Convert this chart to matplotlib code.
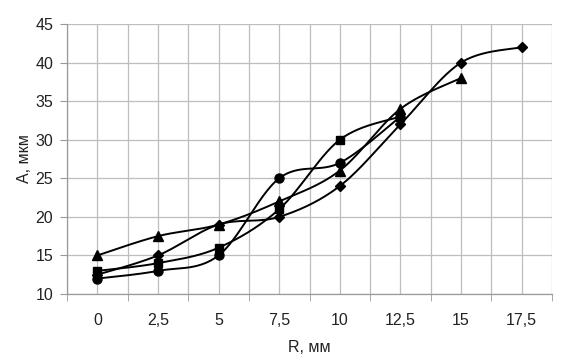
import numpy as np
import matplotlib
matplotlib.use("Agg")
import matplotlib.pyplot as plt

plt.rcParams['font.family'] = ['Liberation Sans', 'DejaVu Sans']

categories = ["0", "2,5", "5", "7,5", "10", "12,5", "15", "17,5"]
diamond = [12.5, 15, 19, 20, 24, 32, 40, 42]
square = [13, 14, 16, 21, 30, 33]
triangle = [15, 17.5, 19, 22, 26, 34, 38]
circle = [12, 13, 15, 25, 27, 33]
y_ticks = [10, 15, 20, 25, 30, 35, 40, 45]


def smooth(ys, n=30):
    """Excel-like smoothed line (Catmull-Rom Bezier) through the points."""
    x = np.arange(len(ys), dtype=float)
    y = np.asarray(ys, dtype=float)
    px, py = [x[0]], [y[0]]
    for i in range(len(x) - 1):
        x0, y0 = (x[i - 1], y[i - 1]) if i > 0 else (x[i], y[i])
        x3, y3 = (x[i + 2], y[i + 2]) if i + 2 < len(x) else (x[i + 1], y[i + 1])
        x1, y1 = x[i], y[i]
        x2, y2 = x[i + 1], y[i + 1]
        c1x, c1y = x1 + (x2 - x0) / 6, y1 + (y2 - y0) / 6
        c2x, c2y = x2 - (x3 - x1) / 6, y2 - (y3 - y1) / 6
        t = np.linspace(0, 1, n)[1:]
        bx = (1 - t) ** 3 * x1 + 3 * (1 - t) ** 2 * t * c1x + 3 * (1 - t) * t ** 2 * c2x + t ** 3 * x2
        by = (1 - t) ** 3 * y1 + 3 * (1 - t) ** 2 * t * c1y + 3 * (1 - t) * t ** 2 * c2y + t ** 3 * y2
        px.extend(bx)
        py.extend(by)
    return np.array(px), np.array(py)


fig = plt.figure(figsize=(5.65, 3.62), dpi=100)
ax = fig.add_axes([0.1186, 0.1878, 0.8584, 0.7459])

series = [(diamond, 'D', 5.5), (square, 's', 6), (triangle, '^', 6.5), (circle, 'o', 6.5)]
for ys, m, ms in series:
    sx, sy = smooth(ys)
    ax.plot(sx, sy, color='black', lw=1.4, zorder=3)
    ax.plot(np.arange(len(ys)), ys, linestyle='none', marker=m, ms=ms,
            color='black', zorder=4)

ax.set_xlim(-0.5, len(categories) - 0.5)
ax.set_ylim(10, 45)
ax.set_yticks(y_ticks)
ax.set_yticklabels([str(v) for v in y_ticks])
ax.set_xticks(np.arange(len(categories)))
ax.set_xticklabels(categories)
ax.set_xticks(np.arange(-0.5, len(categories), 1.0), minor=True)

ax.grid(True, which='major', color='#bdbdbd', lw=0.9, zorder=0)
ax.grid(True, which='minor', axis='x', color='#bdbdbd', lw=0.9, zorder=0)
ax.tick_params(axis='x', which='major', length=0, pad=14, labelsize=11.5, colors='#222222')
ax.tick_params(axis='x', which='minor', length=5, color='#999999')
ax.tick_params(axis='y', length=5, color='#999999', pad=5, labelsize=11.5, labelcolor='#222222')
for s in ['top', 'right']:
    ax.spines[s].set_visible(False)
for s in ['left', 'bottom']:
    ax.spines[s].set_color('#999999')
    ax.spines[s].set_linewidth(0.9)

ax.set_xlabel("R, мм", fontsize=11.5, color='#222222', labelpad=8)
ax.set_ylabel("A, мкм", fontsize=11.5, color='#222222', labelpad=2)

fig.savefig("out.png", dpi=100)
